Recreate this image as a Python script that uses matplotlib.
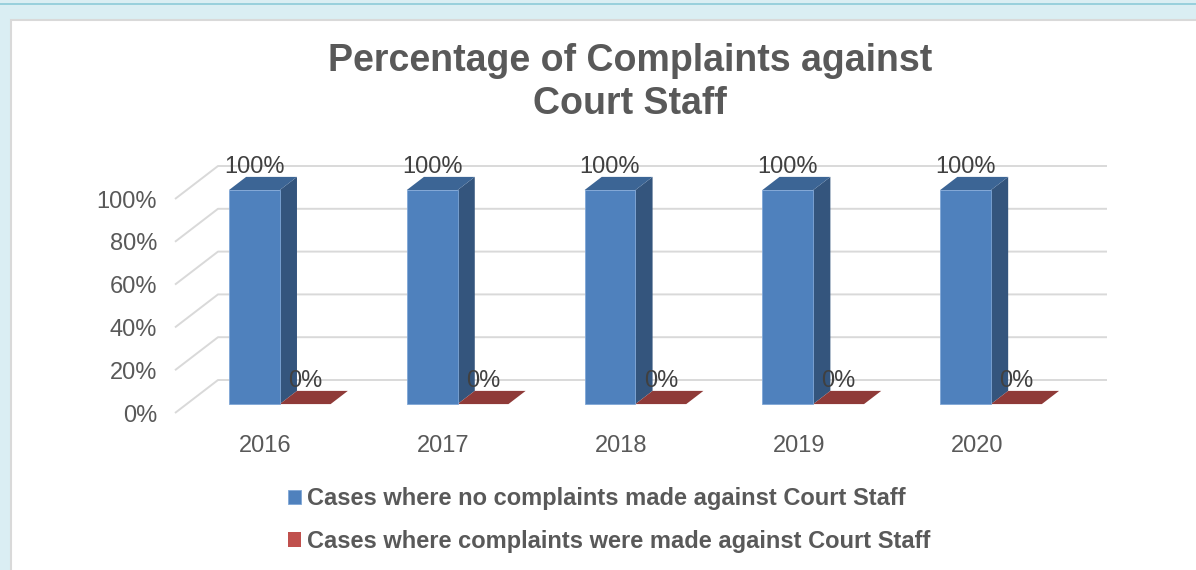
import matplotlib.pyplot as plt
from matplotlib.patches import Polygon, Rectangle
from matplotlib.lines import Line2D
from matplotlib.ticker import PercentFormatter

plt.rcParams['font.family'] = ['Liberation Sans', 'DejaVu Sans']

# data
years = ['2016', '2017', '2018', '2019', '2020']
no_complaints = [100, 100, 100, 100, 100]
with_complaints = [0, 0, 0, 0, 0]
series_names = ['Cases where no complaints made against Court Staff',
                'Cases where complaints were made against Court Staff']

W, H = 1196, 570
fig = plt.figure(figsize=(W / 100, H / 100), dpi=100, facecolor='#DAEEF3')

# page frame: teal rule at the top and a white card with a grey border
fig.add_artist(Line2D([0, 1], [1 - 3.5 / H] * 2, color='#8DCBD8', lw=1.2, zorder=-2))
fig.add_artist(Rectangle((11 / W, -0.1), 1.2, (H - 20) / H + 0.1,
                         transform=fig.transFigure, facecolor='white',
                         edgecolor='#D9D9D9', lw=1.5, zorder=-1))

# axes = front plane of the 3D box
ax = fig.add_axes([175 / W, (H - 413) / H, 889 / W, 214 / H])
ax.set_xlim(0, len(years))
ax.set_ylim(0, 100)
ax.patch.set_visible(False)
for s in ax.spines.values():
    s.set_visible(False)

# oblique projection of depth (full depth of the box, in data units)
DX = 43 / 889 * len(years)
DY = 33 / 214 * 100
D0, D1 = 0.27, 0.67          # front / back depth of the bars
BAR_W = 0.286
X_OFF = 0.238

# back wall and side wall gridlines
for v in range(0, 101, 20):
    ax.plot([0, DX, len(years) + DX], [v, v + DY, v + DY], color='#D9D9D9',
            lw=1.4, clip_on=False, zorder=0, solid_capstyle='butt')

styles = [
    # front, side, top, edge
    ('#4F81BD', '#34557D', '#3C6595', '#7FA6D6'),
    ('#C0504D', '#7A2E2C', '#8F3A38', 'none'),
]

for k, (vals, name) in enumerate(zip([no_complaints, with_complaints], series_names)):
    front, side, top, edge = styles[k]
    xl = [i + X_OFF + k * BAR_W for i in range(len(years))]
    for x, v in zip(xl, vals):
        xr = x + BAR_W
        ax.add_patch(Polygon([(xr + D0 * DX, D0 * DY), (xr + D1 * DX, D1 * DY),
                              (xr + D1 * DX, v + D1 * DY), (xr + D0 * DX, v + D0 * DY)],
                             closed=True, facecolor=side, edgecolor='none',
                             clip_on=False, zorder=2))
        ax.add_patch(Polygon([(x + D0 * DX, v + D0 * DY), (xr + D0 * DX, v + D0 * DY),
                              (xr + D1 * DX, v + D1 * DY), (x + D1 * DX, v + D1 * DY)],
                             closed=True, facecolor=top, edgecolor='none',
                             clip_on=False, zorder=2))
        ax.annotate(f'{v}%', (x + D0 * DX + BAR_W / 2, v + D1 * DY),
                    xytext=(0, 4), textcoords='offset pixels', ha='center',
                    va='baseline', fontsize=17, color='#404040',
                    annotation_clip=False, zorder=5)
    ax.bar([x + D0 * DX for x in xl], vals, width=BAR_W, bottom=D0 * DY,
           align='edge', color=front, edgecolor=edge, lw=0.6, label=name,
           clip_on=False, zorder=3)

# ticks
ax.set_yticks(range(0, 101, 20))
ax.yaxis.set_major_formatter(PercentFormatter(decimals=0))
ax.tick_params(axis='y', length=0, pad=13, labelsize=17, labelcolor='#595959')
ax.set_xticks([i + 0.51 for i in range(len(years))], years)
ax.tick_params(axis='x', length=0, pad=15.5, labelsize=17, labelcolor='#595959')

# title
fig.text(630 / W, 1 - 43 / H, 'Percentage of Complaints against\nCourt Staff',
         ha='center', va='top', fontsize=27, fontweight='bold', color='#595959',
         linespacing=1.25)

# legend
ax.legend(loc='upper left', bbox_to_anchor=(288 / W, 1 - 487 / H),
          bbox_transform=fig.transFigure, frameon=False,
          prop={'weight': 'bold', 'size': 17}, labelcolor='#595959',
          handlelength=0.55, handleheight=0.55, handletextpad=0.25,
          labelspacing=0.84, borderpad=0, borderaxespad=0)

fig.savefig('out.png', dpi=100, facecolor=fig.get_facecolor())
